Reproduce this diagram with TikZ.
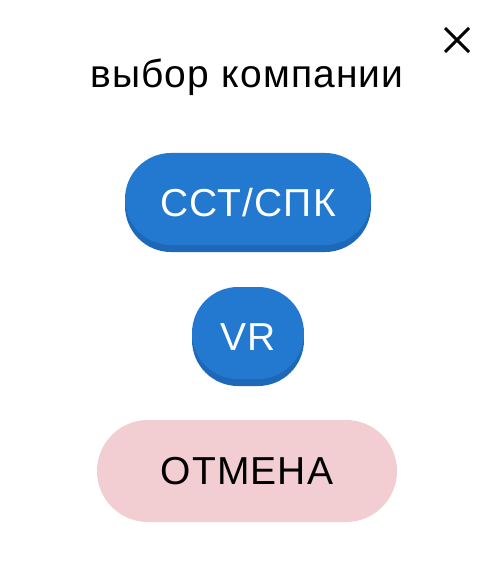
\documentclass[tikz,border=0pt]{standalone}
\usepackage{fontspec}
\setmainfont[LetterSpace=3]{Liberation Sans}
\usepackage{xcolor}
\usetikzlibrary{shapes.misc}
\pgfdeclarelayer{background}
\pgfsetlayers{background,main}
\definecolor{btnblue}{RGB}{35,120,208}
\definecolor{btnshade}{RGB}{30,104,184}
\definecolor{btnpink}{RGB}{242,205,210}
\tikzstyle{bigtext}  = [font=\fontsize{39}{44}\selectfont]
\tikzstyle{pill}     = [rounded rectangle, minimum height=92pt, inner sep=0pt, text centered, bigtext, text height=35.5pt, text depth=0pt]
\tikzstyle{choice}   = [pill, fill=btnblue, text=white]
\tikzstyle{shade}    = [pill, fill=btnshade]
\tikzstyle{cancel}   = [pill, minimum height=102pt, text height=27.5pt, fill=btnpink, text=black]
\tikzstyle{cross}    = [line width=3pt, black]

\begin{document}
\begin{tikzpicture}[x=1pt, y=-1pt]
    \useasboundingbox (0,0) rectangle (498,580);

    \node (title)  [bigtext, anchor=base] at (247,88) {выбор компании};

    \coordinate (xa) at (445,28);
    \coordinate (xb) at (469,52);
    \coordinate (xc) at (469,28);
    \coordinate (xd) at (445,52);
    \draw [cross] (xa) -- (xb);
    \draw [cross] (xc) -- (xd);

    \node (company) [choice, minimum width=246pt] at (248,199) {ССТ/СПК};
    \node (vr)      [choice, minimum width=112pt] at (248,333) {VR};
    \node (cancel)  [cancel, minimum width=300pt] at (247,471) {ОТМЕНА};

    \begin{pgfonlayer}{background}
      \node (companyshade) [shade, minimum width=246pt] at (248,206) {};
      \node (vrshade)      [shade, minimum width=112pt] at (248,340) {};
    \end{pgfonlayer}

\end{tikzpicture}
\end{document}
